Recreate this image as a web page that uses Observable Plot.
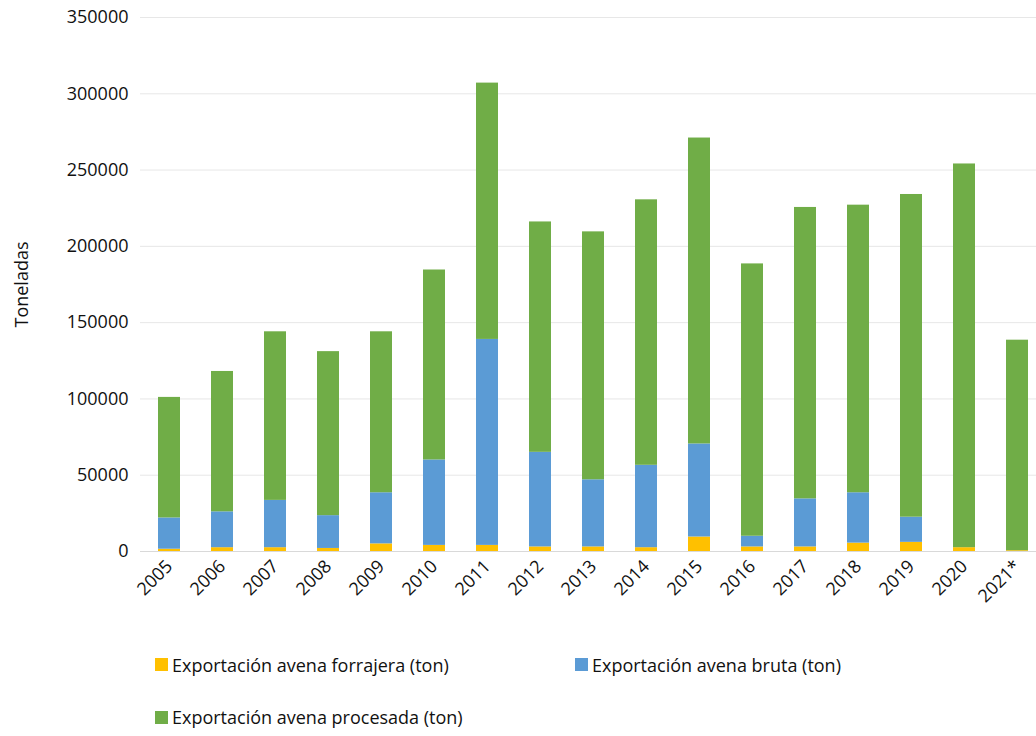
<!DOCTYPE html>
<html>
<head>
<meta charset="utf-8">
<script src="https://cdn.jsdelivr.net/npm/d3@7"></script>
<script src="https://cdn.jsdelivr.net/npm/@observablehq/plot@0.6"></script>
<style>
  body { margin: 0; font-family: "Open Sans", sans-serif; background: #fff; }
  #legend { margin-left: 155px; margin-top: 22px; font-size: 18px; color: #111; }
  .item { display: inline-flex; align-items: center; margin-bottom: 28px; }
  .sw { width: 13px; height: 13px; margin-right: 4px; display: inline-block; }
</style>
</head>
<body>
<div id="chart"></div>
<div id="legend"></div>
<script>
const years = ["2005","2006","2007","2008","2009","2010","2011","2012","2013","2014","2015","2016","2017","2018","2019","2020","2021*"];
const forrajera = [1500,2500,2500,2000,5000,4000,4000,3000,3000,2500,9500,3000,3000,5500,6000,2500,500];
// cumulative tops
const brutaTop = [22000,26000,33500,23500,38500,60000,139000,65000,47000,56500,70500,10000,34500,38500,22500,2500,500];
const totalTop = [101000,118000,144000,131000,144000,184500,307000,216000,209500,230500,271000,188500,225500,227000,234000,254000,138500];

const series = ["Exportación avena forrajera (ton)", "Exportación avena bruta (ton)", "Exportación avena procesada (ton)"];
const colors = ["#ffc000", "#5b9bd5", "#70ad47"];

const data = [];
years.forEach((y, i) => {
  data.push({year: y, serie: series[0], value: forrajera[i]});
  data.push({year: y, serie: series[1], value: brutaTop[i] - forrajera[i]});
  data.push({year: y, serie: series[2], value: totalTop[i] - brutaTop[i]});
});

const chart = Plot.plot({
  width: 1036,
  height: 630,
  marginTop: 17,
  marginLeft: 140,
  marginRight: -11,
  marginBottom: 79,
  style: {fontFamily: "Open Sans, sans-serif", fontSize: "18px", color: "#111", overflow: "hidden"},
  x: {domain: years, paddingInner: 0.58, paddingOuter: 0.28, label: null, tickRotate: -45, tickSize: 0},
  y: {domain: [0, 350000], ticks: d3.range(0, 350001, 50000), grid: true, label: "Toneladas", labelAnchor: "center", labelArrow: "none", labelOffset: 125, tickSize: 0, tickPadding: 12, tickFormat: d => String(d)},
  color: {domain: series, range: colors},
  marks: [
    Plot.barY(data, {x: "year", y: "value", fill: "serie", order: series}),
    Plot.ruleY([0], {stroke: "#d9d9d9"})
  ]
});
d3.select(chart).selectAll("[aria-label='y-axis grid'] line").attr("stroke", "#d9d9d9").attr("stroke-opacity", 1);
d3.select("#chart").append(() => chart);

const leg = d3.select("#legend");
const rows = [[0, 1], [2]];
rows.forEach(r => {
  const row = leg.append("div");
  r.forEach((k, j) => {
    const it = row.append("span").attr("class", "item").style("width", j === 0 ? "420px" : null);
    it.append("span").attr("class", "sw").style("background", colors[k]);
    it.append("span").text(series[k]);
  });
});
</script>
</body>
</html>
